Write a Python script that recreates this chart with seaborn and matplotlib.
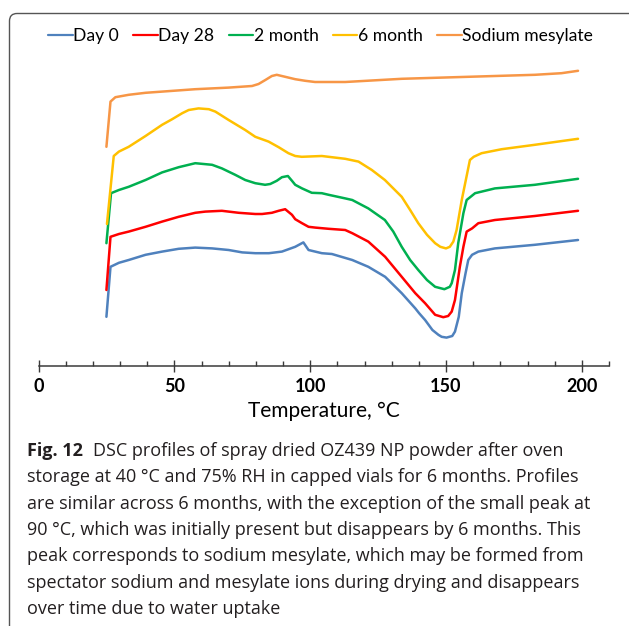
#!/usr/bin/env python3
# -*- coding: utf-8 -*-
"""
DSC profiles of spray dried OZ439 NP powder (Fig. 12)
"""

import numpy as np
import pandas as pd
import matplotlib
matplotlib.use('Agg')
import matplotlib.pyplot as plt
import seaborn as sns
from matplotlib.patches import FancyBboxPatch
from matplotlib.ticker import MultipleLocator

# ---- data (heat flow in arbitrary units) ----
day0_temp = [25.0, 26.5, 29.6, 33.2, 39.4, 45.5, 51.6, 57.7, 63.9, 70.0, 75.0, 79.8, 84.8,
             89.6, 94.5, 97.5, 99.4, 104.3, 108.0, 113.0, 115.5, 121.4, 127.6, 133.7, 138.7,
             140.1, 142.3, 145.0, 147.2, 148.4, 150.2, 152.3, 153.3, 154.7, 155.8, 157.2,
             158.2, 159.6, 161.9, 168.0, 182.7, 198.6]
day0_heat = [1.23, 2.48, 2.58, 2.65, 2.78, 2.86, 2.93, 2.96, 2.94, 2.90, 2.84, 2.82, 2.82,
             2.86, 2.98, 3.09, 2.90, 2.82, 2.80, 2.70, 2.65, 2.48, 2.23, 1.82, 1.44,
             1.32, 1.15, 0.90, 0.78, 0.73, 0.71, 0.75, 0.86, 1.23, 1.82, 2.32,
             2.65, 2.78, 2.86, 2.94, 3.03, 3.15]

day28_temp = [25.0, 26.5, 29.6, 33.2, 39.4, 45.5, 51.6, 57.7, 61.4, 67.5, 73.7, 79.8, 82.3,
              85.9, 88.4, 90.8, 93.3, 94.5, 97.0, 99.4, 101.9, 106.8, 112.9, 115.5, 121.4,
              127.6, 133.7, 138.7, 142.3, 146.0, 149.0, 150.8, 152.1, 153.3, 155.1, 156.4,
              157.6, 159.6, 161.9, 168.0, 182.7, 198.6]
day28_heat = [1.90, 3.23, 3.30, 3.36, 3.48, 3.61, 3.73, 3.83, 3.86, 3.88, 3.83, 3.80, 3.80,
              3.83, 3.88, 3.92, 3.78, 3.67, 3.57, 3.48, 3.46, 3.43, 3.40, 3.32, 3.11,
              2.73, 2.23, 1.82, 1.57, 1.28, 1.22, 1.25, 1.36, 1.65, 2.48, 2.98,
              3.36, 3.44, 3.57, 3.65, 3.75, 3.88]

month2_temp = [25.0, 26.7, 29.6, 33.2, 39.4, 45.5, 51.6, 57.7, 63.9, 67.5, 72.4, 76.1, 79.8,
               83.4, 85.3, 87.7, 89.6, 91.8, 93.3, 94.5, 97.0, 100.6, 104.3, 106.8, 112.9,
               115.5, 121.4, 127.5, 130.6, 133.7, 136.8, 139.8, 143.0, 146.0, 149.4, 151.4,
               152.1, 153.3, 154.5, 156.4, 157.6, 160.7, 168.0, 182.7, 198.6]
month2_heat = [3.07, 4.32, 4.40, 4.48, 4.65, 4.84, 4.97, 5.07, 5.03, 4.94, 4.78, 4.65, 4.57,
               4.53, 4.55, 4.63, 4.72, 4.75, 4.63, 4.53, 4.44, 4.33, 4.32, 4.28, 4.19,
               4.15, 3.94, 3.65, 3.36, 2.98, 2.65, 2.40, 2.15, 1.98, 1.92, 1.98,
               2.07, 2.40, 3.07, 3.82, 4.15, 4.32, 4.44, 4.53, 4.68]

month6_temp = [25.2, 27.7, 29.6, 33.2, 39.4, 45.5, 49.2, 52.9, 55.3, 58.9, 62.7, 65.1, 70.0,
               76.1, 79.8, 84.7, 88.4, 92.0, 94.5, 96.9, 104.3, 109.2, 112.9, 117.8, 122.7,
               127.5, 133.7, 136.8, 139.8, 143.0, 146.0, 147.9, 150.0, 151.4, 152.7, 153.9,
               155.8, 157.3, 158.8, 160.2, 163.1, 170.5, 182.7, 198.6]
month6_heat = [3.55, 5.25, 5.36, 5.48, 5.75, 6.03, 6.17, 6.32, 6.40, 6.44, 6.42, 6.36, 6.15,
               5.90, 5.73, 5.61, 5.47, 5.32, 5.25, 5.23, 5.25, 5.21, 5.18, 5.11, 4.90,
               4.65, 4.23, 3.90, 3.57, 3.28, 3.07, 2.98, 2.94, 2.98, 3.11, 3.40,
               4.15, 4.65, 5.15, 5.23, 5.32, 5.42, 5.53, 5.68]

mesylate_temp = [25.0, 26.5, 28.3, 33.2, 39.4, 45.5, 57.7, 70.0, 78.6, 81.0, 83.5, 85.9, 87.7,
                 90.8, 94.5, 98.2, 101.8, 112.9, 133.7, 158.2, 182.7, 192.5, 198.6]
mesylate_heat = [5.48, 6.61, 6.72, 6.78, 6.83, 6.86, 6.92, 6.96, 7.00, 7.05, 7.15, 7.25, 7.28,
                 7.23, 7.17, 7.13, 7.10, 7.10, 7.18, 7.23, 7.28, 7.32, 7.38]

sample_names = ['Day 0', 'Day 28', '2 month', '6 month', 'Sodium mesylate']
sample_colors = ['#4F81BD', '#FF0000', '#00B050', '#FFC000', '#F79646']
tick_values = [0, 50, 100, 150, 200]

caption_bold = 'Fig. 12'
caption_lines = [
    'DSC profiles of spray dried OZ439 NP powder after oven',
    'storage at 40 °C and 75% RH in capped vials for 6 months. Profiles',
    'are similar across 6 months, with the exception of the small peak at',
    '90 °C, which was initially present but disappears by 6 months. This',
    'peak corresponds to sodium mesylate, which may be formed from',
    'spectator sodium and mesylate ions during drying and disappears',
    'over time due to water uptake',
]

# ---- long-form table ----
series = [(day0_temp, day0_heat), (day28_temp, day28_heat), (month2_temp, month2_heat),
          (month6_temp, month6_heat), (mesylate_temp, mesylate_heat)]
rows = []
for name, (temps, heats) in zip(sample_names, series):
    for t, h in zip(temps, heats):
        rows.append({'Sample': name, 'Temperature': t, 'Heat flow': h})
df = pd.DataFrame(rows)

sns.set_theme(style='white')
plt.rcParams['font.family'] = ['Lato', 'DejaVu Sans']

W, H = 629, 626
fig = plt.figure(figsize=(W / 100, H / 100), dpi=100)
fig.patch.set_facecolor('white')
ax = fig.add_axes([38.5 / W, 260 / H, 570.5 / W, 306 / H])

sns.lineplot(data=df, x='Temperature', y='Heat flow', hue='Sample',
             hue_order=sample_names, palette=dict(zip(sample_names, sample_colors)),
             sort=False, estimator=None, linewidth=1.8, ax=ax)
for line in ax.get_lines():
    line.set_solid_joinstyle('round')

# 坐标轴
ax.set_xlim(0, 210)
ax.set_ylim(0, 7.65)
ax.set_yticks([])
ax.set_ylabel('')
for side in ['left', 'top', 'right']:
    ax.spines[side].set_visible(False)
ax.spines['bottom'].set_color('#3a3a3a')
ax.spines['bottom'].set_linewidth(1.1)

ax.set_xticks(tick_values)
ax.set_xticklabels([str(v) for v in tick_values], fontweight='bold')
ax.xaxis.set_minor_locator(MultipleLocator(10))
ax.tick_params(axis='x', which='major', bottom=True, direction='inout', length=8.6,
               width=1.0, color='#3a3a3a', labelsize=13, labelcolor='black', pad=4)
ax.tick_params(axis='x', which='minor', bottom=True, direction='in', length=3.8,
               width=1.0, color='#3a3a3a')
ax.set_xlabel('Temperature, °C', fontsize=15, color='black', labelpad=5)

# 图例
handles, labels = ax.get_legend_handles_labels()
if ax.get_legend() is not None:
    ax.get_legend().remove()
leg = fig.legend(handles, labels, loc='center left', bbox_to_anchor=(48 / W, 1 - 36 / H),
                 ncol=5, frameon=False, handlelength=1.4, handletextpad=0.05,
                 columnspacing=0.8, borderpad=0, borderaxespad=0, fontsize=12.6)
for line in leg.get_lines():
    line.set_linewidth(1.6)
for txt in leg.get_texts():
    txt.set_color('black')

# 边框
fig.add_artist(FancyBboxPatch((9.5 / W, -0.1), 1.2, 1 - 13.5 / H + 0.1,
                              boxstyle='round,pad=0,rounding_size=0.012',
                              transform=fig.transFigure, fill=False,
                              edgecolor='#555555', linewidth=1.0))

# 图注
cap_family = ['Open Sans', 'DejaVu Sans']
cap_color = '#231F20'
renderer = fig.canvas.get_renderer()
probe = fig.text(0, 0, caption_lines[2], fontsize=10, family=cap_family)
w10 = probe.get_window_extent(renderer).width
probe.remove()
cap_size = 10 * 565 / w10

x0 = 27
baselines = [456 + 26.3 * i for i in range(len(caption_lines))]
fig_bold = fig.text(x0 / W, 1 - baselines[0] / H, caption_bold, fontsize=cap_size,
                    family=cap_family, fontweight='bold', color=cap_color, va='baseline')
bold_w = fig_bold.get_window_extent(renderer).width
fig.text((x0 + bold_w + 10) / W, 1 - baselines[0] / H, caption_lines[0], fontsize=cap_size,
         family=cap_family, color=cap_color, va='baseline')
for line, base in zip(caption_lines[1:], baselines[1:]):
    fig.text(x0 / W, 1 - base / H, line, fontsize=cap_size, family=cap_family,
             color=cap_color, va='baseline')

fig.savefig('out.png', dpi=100, facecolor='white')
